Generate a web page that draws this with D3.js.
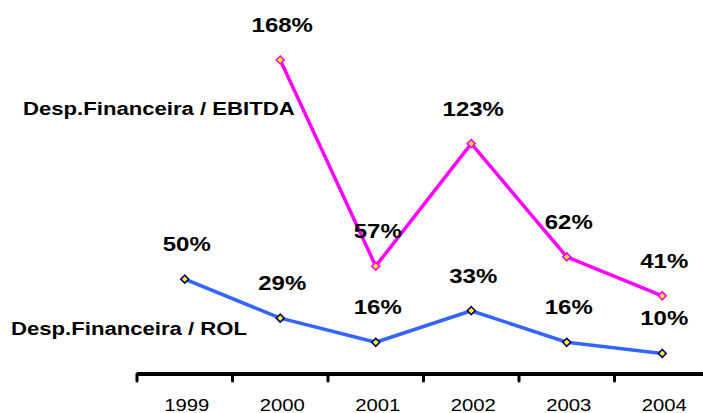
<!DOCTYPE html>
<meta charset="utf-8">
<style>
body { margin: 0; background: #fff; }
text { font-family: "Liberation Sans", Arial, sans-serif; fill: #000; }
</style>
<svg width="703" height="413"></svg>
<script src="https://cdn.jsdelivr.net/npm/d3@7/dist/d3.min.js"></script>
<script>
// years on the x axis
var years = ["1999", "2000", "2001", "2002", "2003", "2004"];
// Desp.Financeira / EBITDA (%), no value in 1999
var ebitda = [null, 168, 57, 123, 62, 41];
// Desp.Financeira / ROL (%)
var rol = [50, 29, 16, 33, 16, 10];

var svg = d3.select("svg"),
    sx = 1.23; // the original is stretched sideways

var x = d3.scaleBand().domain(years).range([137, 710]);
var y = d3.scaleLinear().domain([0, 168]).range([372, 60]);

function cx(d) { return x(d) + x.bandwidth() / 2; }

// axis: thick line, ticks hanging at band edges, no tick at labels
var axis = svg.append("g").attr("transform", "translate(0,374)");
axis.append("line")
    .attr("x1", 137).attr("x2", 710)
    .attr("stroke", "#000").attr("stroke-width", 4);
axis.selectAll(".tk").data(years).enter().append("line")
    .attr("x1", function(d) { return x(d); }).attr("x2", function(d) { return x(d); })
    .attr("y1", 0).attr("y2", 7)
    .attr("stroke", "#000").attr("stroke-width", 3).attr("stroke-linecap", "round");
axis.selectAll(".yr").data(years).enter().append("text")
    .attr("transform", function(d) { return "translate(" + (cx(d) + 2) + ",37) scale(" + sx + ",1)"; })
    .attr("text-anchor", "middle")
    .style("font-size", "16.5px")
    .text(function(d) { return d; });

function drawSeries(vals, color, edge) {
  var pts = years.map(function(d, i) { return {year: d, v: vals[i]}; })
      .filter(function(p) { return p.v != null; });

  svg.append("path")
      .datum(pts)
      .attr("fill", "none")
      .attr("stroke", color)
      .attr("stroke-width", 3.5)
      .attr("stroke-linejoin", "round")
      .attr("d", d3.line().x(function(p) { return cx(p.year); }).y(function(p) { return y(p.v); }));

  svg.selectAll(null).data(pts).enter().append("path")
      .attr("transform", function(p) { return "translate(" + cx(p.year) + "," + y(p.v) + ")"; })
      .attr("d", d3.symbol().type(d3.symbolDiamond2).size(40))
      .attr("fill", "#ffff00")
      .attr("stroke", edge)
      .attr("stroke-width", 1.6);

  svg.selectAll(null).data(pts).enter().append("text")
      .attr("transform", function(p) { return "translate(" + (cx(p.year) + 2) + "," + (y(p.v) - 28) + ") scale(" + sx + ",1)"; })
      .attr("text-anchor", "middle")
      .style("font-size", "19.5px")
      .style("font-weight", "bold")
      .text(function(p) { return p.v + "%"; });
}

drawSeries(ebitda, "#ff00ff", "#ff00ff");
drawSeries(rol, "#3366ff", "#000080");

// series names
svg.append("text")
    .attr("transform", "translate(23,115) scale(" + sx + ",1)")
    .style("font-size", "18px").style("font-weight", "bold")
    .text("Desp.Financeira / EBITDA");
svg.append("text")
    .attr("transform", "translate(11,335) scale(" + sx + ",1)")
    .style("font-size", "18px").style("font-weight", "bold")
    .text("Desp.Financeira / ROL");
</script>
